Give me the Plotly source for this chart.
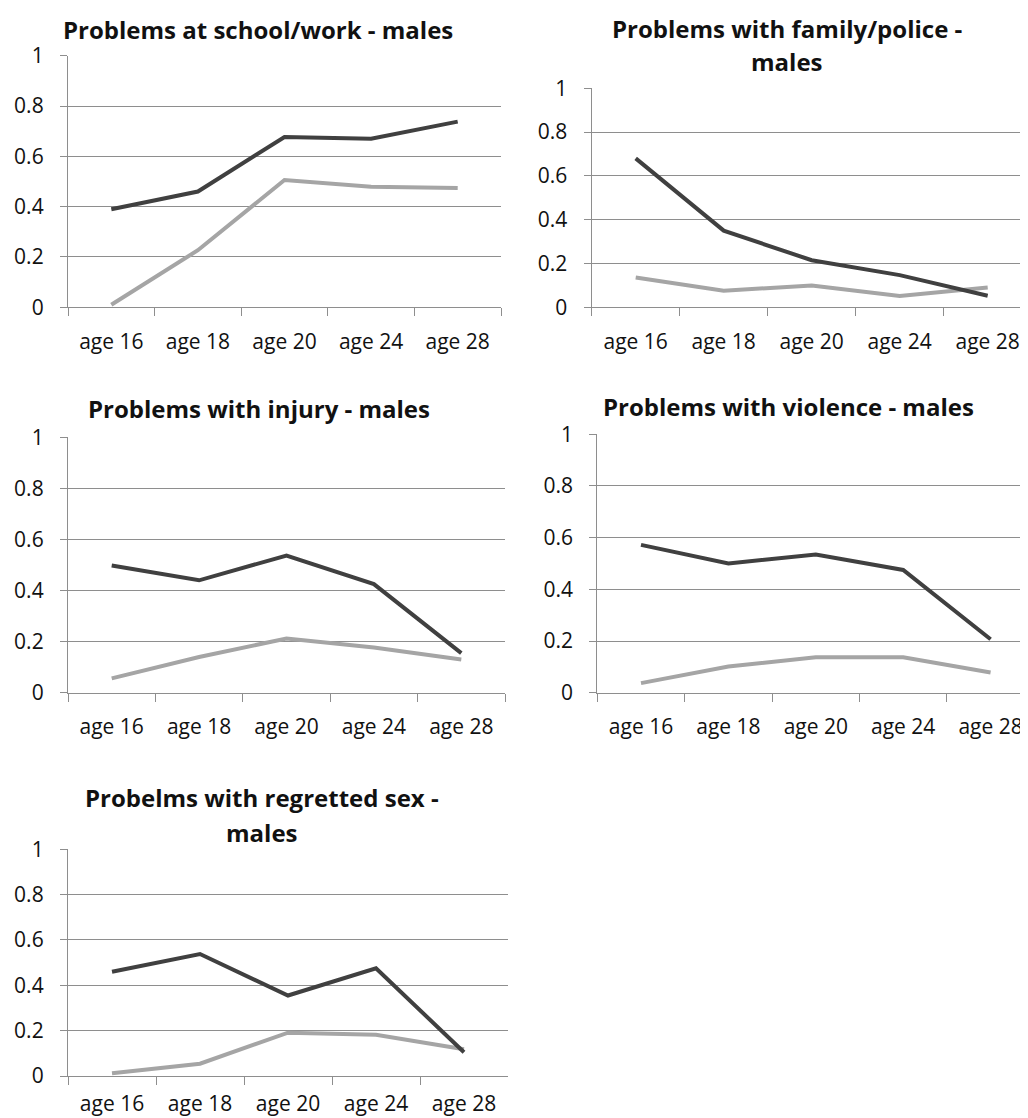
import plotly.graph_objects as go

ages = ["age 16", "age 18", "age 20", "age 24", "age 28"]

school_dark = [0.39, 0.46, 0.677, 0.670, 0.738]
school_light = [0.01, 0.227, 0.506, 0.479, 0.474]

family_dark = [0.68, 0.35, 0.215, 0.147, 0.053]
family_light = [0.136, 0.076, 0.099, 0.052, 0.090]

injury_dark = [0.498, 0.440, 0.537, 0.425, 0.155]
injury_light = [0.056, 0.140, 0.212, 0.177, 0.130]

violence_dark = [0.572, 0.500, 0.535, 0.475, 0.207]
violence_light = [0.037, 0.101, 0.137, 0.137, 0.078]

sex_dark = [0.460, 0.538, 0.355, 0.475, 0.105]
sex_light = [0.012, 0.054, 0.191, 0.182, 0.118]

# page is offset by the default 8px body margin
OFF = 8
W, H = 1028 - OFF, 1118 - OFF
DARK = "#404040"
LIGHT = "#a5a5a5"
GRID = "#8e8e8e"
FONT = "Open Sans"


def fx(px):
    return (px - OFF) / W


def fy(py):
    return 1 - (py - OFF) / H


panels = [
    # (title lines, dark, light, x0, x1, ytop, ybot, range_end, title_x, title_ys, xstandoff)
    (["Problems at school/work - males"], school_dark, school_light,
     68, 501, 55.7, 307.3, 4.5, 258, [29], 15),
    (["Problems with family/police -", "males"], family_dark, family_light,
     591.7, 1028, 88.3, 307.3, 4.458, 787, [28, 62], 15),
    (["Problems with injury - males"], injury_dark, injury_light,
     68, 505, 437.3, 692.7, 4.5, 259, [408], 15),
    (["Problems with violence - males"], violence_dark, violence_light,
     597.3, 1028, 434.3, 692.7, 4.428, 788, [406], 15),
    (["Probelms with regretted sex -", "males"], sex_dark, sex_light,
     68, 508, 849.3, 1076, 4.5, 262, [797, 832], 9),
]

fig = go.Figure()
annotations = []
for i, (tlines, dark, light, x0, x1, yt, yb, rend, tx, tys, xso) in enumerate(panels):
    n = "" if i == 0 else str(i + 1)
    xa, ya = "x" + n, "y" + n
    fig.add_trace(go.Scatter(x=ages, y=light, mode="lines",
                             line=dict(color=LIGHT, width=4),
                             xaxis=xa, yaxis=ya, showlegend=False))
    fig.add_trace(go.Scatter(x=ages, y=dark, mode="lines",
                             line=dict(color=DARK, width=4),
                             xaxis=xa, yaxis=ya, showlegend=False))
    fig.layout["xaxis" + n] = dict(
        domain=[fx(x0), min(fx(x1), 1.0)], anchor=ya, type="category",
        range=[-0.5, rend], showgrid=False, zeroline=False,
        showline=True, linecolor=GRID, linewidth=1.3,
        ticks="outside", tickson="boundaries", ticklen=8, tickcolor=GRID,
        tickwidth=1.3, tickfont=dict(family=FONT, size=21, color="#111"),
        ticklabelstandoff=xso, automargin=False, fixedrange=True,
    )
    fig.layout["yaxis" + n] = dict(
        domain=[fy(yb), fy(yt)], anchor=xa, range=[0, 1],
        tickvals=[0, 0.2, 0.4, 0.6, 0.8, 1],
        ticktext=["0", "0.2", "0.4", "0.6", "0.8", "1"],
        showgrid=True, gridcolor=GRID, gridwidth=1.3, zeroline=False,
        showline=True, linecolor=GRID, linewidth=1.3,
        ticks="outside", ticklen=7, tickcolor=GRID, tickwidth=1.3,
        tickfont=dict(family=FONT, size=21, color="#111"),
        ticklabelstandoff=12, automargin=False, fixedrange=True,
    )
    for line, ty in zip(tlines, tys):
        annotations.append(dict(
            text="<b>" + line + "</b>", x=fx(tx), y=fy(ty),
            xref="paper", yref="paper", xanchor="center", yanchor="middle",
            showarrow=False, font=dict(family=FONT, size=24, color="#111"),
        ))

fig.update_layout(
    width=W, height=H, margin=dict(l=0, r=0, t=0, b=0),
    paper_bgcolor="white", plot_bgcolor="white",
    annotations=annotations, showlegend=False,
)

fig.write_html("out.html")
